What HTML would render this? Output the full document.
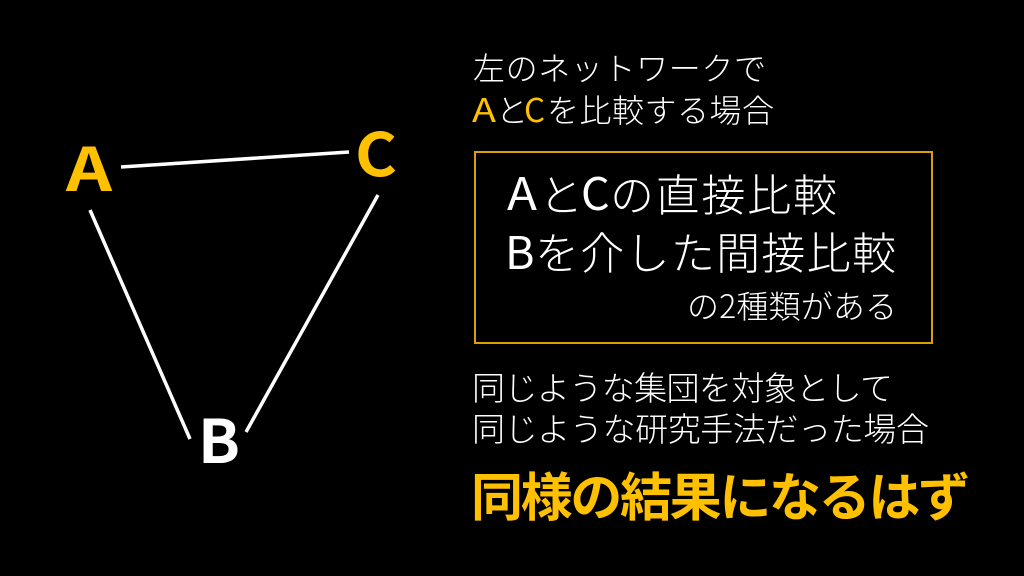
<!DOCTYPE html>
<html lang="ja">
<head>
<meta charset="utf-8">
<style>
html,body{margin:0;padding:0;background:#000;width:1024px;height:576px;overflow:hidden}
svg{display:block}
text{font-family:"Noto Sans CJK JP","Liberation Sans",sans-serif;fill:#fff;font-weight:300}
.y{fill:#FFC000}
.b{font-weight:700}
.r{font-weight:400}
</style>
</head>
<body>
<svg width="1024" height="576" viewBox="0 0 1024 576" xmlns="http://www.w3.org/2000/svg">
<rect width="1024" height="576" fill="#000"/>
<g stroke="#fff" stroke-width="3.5" fill="none">
<line x1="121" y1="167" x2="349" y2="152"/>
<line x1="90" y1="210" x2="190" y2="439"/>
<line x1="378" y1="195" x2="246" y2="432"/>
</g>
<text x="66" y="191" class="y b" font-size="60" textLength="46" lengthAdjust="spacingAndGlyphs">A</text>
<text x="355" y="176" class="y b" font-size="60" textLength="42" lengthAdjust="spacingAndGlyphs">C</text>
<text x="198" y="463" class="b" font-size="60" textLength="42" lengthAdjust="spacingAndGlyphs">B</text>

<text x="473" y="80" font-size="32" textLength="293">左のネットワークで</text>
<text x="472" y="122" class="y r" font-size="33" textLength="24" lengthAdjust="spacingAndGlyphs">A</text>
<text x="496" y="122" font-size="32">と</text>
<text x="524" y="122" class="y r" font-size="33">C</text>
<text x="547" y="122" font-size="32" textLength="227">を比較する場合</text>

<rect x="475" y="152" width="457" height="191" fill="none" stroke="#D9A100" stroke-width="2"/>

<text x="507" y="210" class="r" font-size="45" textLength="30" lengthAdjust="spacingAndGlyphs">A</text>
<text x="539" y="211" font-size="44">と</text>
<text x="581" y="210" class="r" font-size="45">C</text>
<text x="610" y="211" font-size="44" textLength="227">の直接比較</text>
<text x="505" y="269" class="r" font-size="45">B</text>
<text x="535" y="269" font-size="44" textLength="361">を介した間接比較</text>
<text x="687" y="318" font-size="32" textLength="210">の2種類がある</text>

<text x="472" y="400" font-size="33" textLength="421">同じような集団を対象として</text>
<text x="472" y="441" font-size="33" textLength="457">同じような研究手法だった場合</text>

<text x="471" y="516" class="y b" font-size="52" textLength="499">同様の結果になるはず</text>
</svg>
</body>
</html>
